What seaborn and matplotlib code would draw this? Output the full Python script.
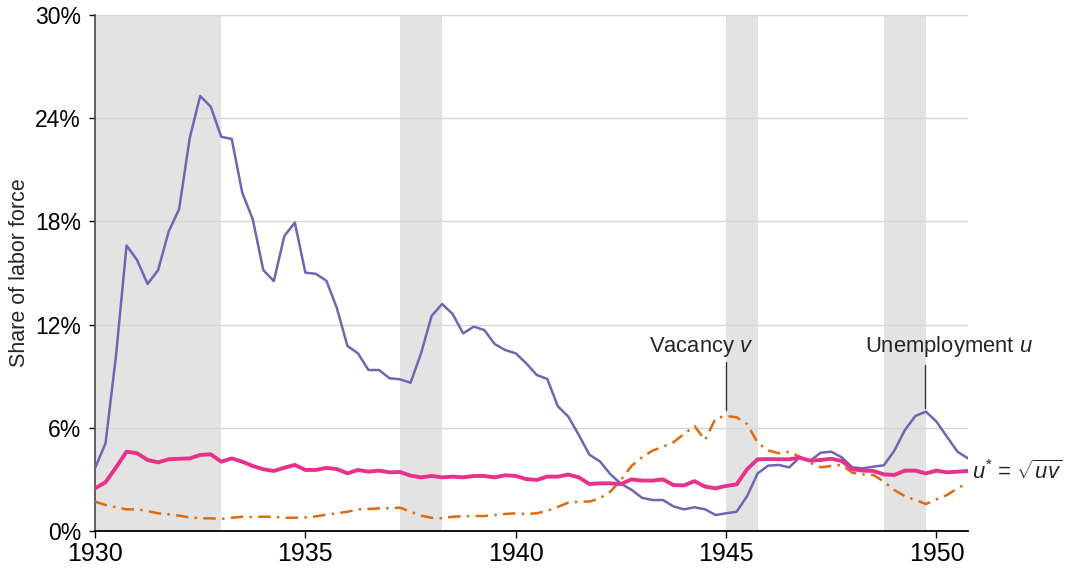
import numpy as np
import pandas as pd
import matplotlib
matplotlib.use("Agg")
import matplotlib.pyplot as plt
import seaborn as sns

# ---- data (quarterly, 1930Q1 .. 1950Q4), share of labor force in % ----
start_year = 1930
n_quarters = 84
unemployment = [3.65, 5.1, 10.2, 16.6, 15.75, 14.36, 15.17, 17.4, 18.72, 22.83,
                25.29, 24.67, 22.92, 22.79, 19.67, 18.12, 15.17, 14.53, 17.15, 17.93,
                15.02, 14.95, 14.55, 12.95, 10.76, 10.33, 9.36, 9.36, 8.88, 8.82,
                8.62, 10.33, 12.5, 13.2, 12.62, 11.49, 11.88, 11.69, 10.87, 10.52,
                10.33, 9.75, 9.07, 8.84, 7.25, 6.65, 5.58, 4.44, 4.05, 3.3,
                2.75, 2.4, 1.93, 1.8, 1.8, 1.43, 1.26, 1.38, 1.26, 0.93,
                1.03, 1.12, 2.03, 3.35, 3.8, 3.84, 3.7, 4.28, 4.09, 4.55,
                4.61, 4.28, 3.7, 3.64, 3.74, 3.82, 4.67, 5.87, 6.69, 6.94,
                6.36, 5.48, 4.61, 4.22]
vacancy = [1.71, 1.51, 1.38, 1.26, 1.26, 1.16, 1.03, 0.97, 0.89, 0.79,
           0.74, 0.74, 0.7, 0.77, 0.83, 0.81, 0.83, 0.83, 0.77, 0.77,
           0.79, 0.85, 0.95, 1.03, 1.12, 1.26, 1.28, 1.32, 1.32, 1.36,
           1.12, 0.89, 0.77, 0.74, 0.83, 0.85, 0.87, 0.87, 0.93, 0.99,
           1.03, 0.99, 1.03, 1.18, 1.4, 1.65, 1.71, 1.71, 1.9, 2.29,
           2.97, 3.78, 4.28, 4.67, 4.9, 5.16, 5.64, 6.1, 5.29, 6.55,
           6.69, 6.61, 6.22, 5.13, 4.69, 4.52, 4.61, 4.32, 3.97, 3.7,
           3.78, 3.84, 3.39, 3.29, 3.26, 2.87, 2.38, 2.03, 1.8, 1.57,
           1.84, 2.09, 2.48, 2.81]
efficient_u = [2.48, 2.83, 3.7, 4.61, 4.52, 4.13, 3.99, 4.17, 4.2, 4.22,
               4.42, 4.46, 4.03, 4.22, 4.03, 3.78, 3.59, 3.49, 3.68, 3.84,
               3.55, 3.55, 3.67, 3.6, 3.35, 3.55, 3.45, 3.51, 3.41, 3.43,
               3.22, 3.12, 3.2, 3.12, 3.16, 3.12, 3.2, 3.2, 3.12, 3.24,
               3.2, 3.02, 2.97, 3.16, 3.16, 3.28, 3.12, 2.73, 2.77, 2.77,
               2.73, 3.0, 2.93, 2.93, 3.0, 2.67, 2.65, 2.9, 2.58, 2.48,
               2.62, 2.71, 3.59, 4.17, 4.18, 4.17, 4.17, 4.26, 4.09, 4.13,
               4.2, 4.07, 3.59, 3.51, 3.49, 3.29, 3.26, 3.51, 3.51, 3.35,
               3.51, 3.41, 3.45, 3.49]
recession_starts = [1930.0, 1937.25, 1945.0, 1948.75]
recession_ends = [1933.0, 1938.25, 1945.75, 1949.75]
y_ticks = [0, 6, 12, 18, 24, 30]
x_ticks = [1930, 1935, 1940, 1945, 1950]

t = start_year + 0.25 * np.arange(n_quarters)
df = pd.DataFrame({"t": t, "u": unemployment, "v": vacancy, "us": efficient_u})

sns.set_style("white")
plt.rcParams["font.family"] = ["Liberation Sans", "DejaVu Sans"]
plt.rcParams["mathtext.fontset"] = "custom"
plt.rcParams["mathtext.rm"] = "Liberation Sans"
plt.rcParams["mathtext.it"] = "Liberation Sans:italic"

fig = plt.figure(figsize=(10.68, 5.72), dpi=100)
ax = fig.add_axes([95 / 1068, 1 - 531 / 572, (968 - 95) / 1068, (531 - 15) / 572])

for s, e in zip(recession_starts, recession_ends):
    ax.axvspan(s, e, color="#e3e3e3", lw=0, zorder=0)
for yv in y_ticks[1:]:
    ax.axhline(yv, color="#d6d6d6", lw=1, zorder=0.5)

sns.lineplot(data=df, x="t", y="u", ax=ax, color="#6f66b3", lw=1.8, zorder=3)
sns.lineplot(data=df, x="t", y="v", ax=ax, color="#e06a10", lw=1.8, zorder=3,
             linestyle=(0, (5, 2.5, 1, 2.5)))
sns.lineplot(data=df, x="t", y="us", ax=ax, color="#e8318a", lw=2.8, zorder=4)

ax.set_xlim(1930, 1950.75)
ax.set_ylim(0, 30)
ax.set_yticks(y_ticks)
ax.set_yticklabels([f"{v}%" for v in y_ticks])
ax.set_xticks(x_ticks)
ax.set_xticklabels([str(v) for v in x_ticks])
ax.tick_params(axis="both", length=4, width=1, direction="out",
               colors="#000000", left=True, bottom=True)
ax.tick_params(axis="y", pad=6, labelsize=16.5)
ax.tick_params(axis="x", pad=3, length=5, labelsize=18)
ax.set_xlabel("")
ax.set_ylabel("Share of labor force", fontsize=15.5)
ax.yaxis.set_label_coords(-0.075, 0.5)

for side in ["top", "right"]:
    ax.spines[side].set_visible(False)
ax.spines["left"].set_color("#555555")
ax.spines["left"].set_linewidth(1.3)
ax.spines["bottom"].set_color("#000000")
ax.spines["bottom"].set_linewidth(1.3)

# annotations
ax.text(1945.65, 10.7, "Vacancy $v$", fontsize=15.8, ha="right", va="center")
ax.plot([1945.0, 1945.0], [7.03, 9.8], color="#333333", lw=1)
ax.text(1950.3, 10.7, "Unemployment $u$", fontsize=15.8, ha="center", va="center",
        clip_on=False)
ax.plot([1949.73, 1949.73], [7.15, 9.65], color="#333333", lw=1)
ax.text(1950.85, 3.4, r"$u^{*}$ = $\sqrt{uv}$", fontsize=15.8, ha="left", va="center",
        clip_on=False)

fig.savefig("out.png", dpi=100)
